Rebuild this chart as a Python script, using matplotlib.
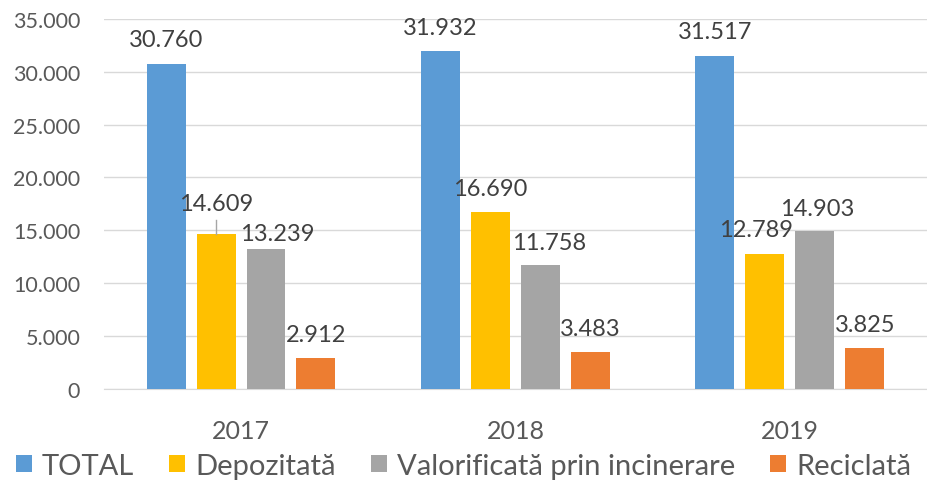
import matplotlib
matplotlib.use("Agg")
import matplotlib.pyplot as plt
import numpy as np

years = ["2017", "2018", "2019"]
series = ["TOTAL", "Depozitată", "Valorificată prin incinerare", "Reciclată"]
total = [30760, 31932, 31517]
depozitata = [14609, 16690, 12789]
valorificata = [13239, 11758, 14903]
reciclata = [2912, 3483, 3825]
colors = ["#5b9bd5", "#ffc000", "#a5a5a5", "#ed7d31"]

# label offsets in points (baseline above bar top), Excel-style nudges
offsets = {
    (1, 0): (0, 17.5), (2, 0): (8, 6.5),
    (2, 1): (6, 11.5), (1, 2): (-6.5, 13), (2, 2): (1.5, 11.5),
}

plt.rcParams["font.family"] = ["Lato", "DejaVu Sans"]
fig = plt.figure(figsize=(9.27, 4.85), dpi=100)
ax = fig.add_axes([0.112, 0.196, 0.888, 0.763])

x = np.arange(len(years))
w = 0.142
step = 0.182
data = [total, depozitata, valorificata, reciclata]
for i, (vals, c, name) in enumerate(zip(data, colors, series)):
    pos = x + (i - 1.5) * step
    ax.bar(pos, vals, width=w, color=c, label=name, zorder=3)
    for j, v in enumerate(vals):
        dx, dy = offsets.get((i, j), (0, 12.5))
        ax.annotate(f"{v/1000:.3f}", (pos[j], v), xytext=(dx, dy),
                    textcoords="offset points", ha="center", va="baseline",
                    fontsize=17, color="#404040", zorder=4)
        if (i, j) == (1, 0):
            ax.plot([pos[j], pos[j]], [v, v + 1330], color="#a6a6a6", lw=1, zorder=4)

ax.set_xlim(-0.5, 2.5)
ax.set_ylim(0, 35000)
ticks = list(range(0, 35001, 5000))
ax.set_yticks(ticks)
ax.set_yticklabels([f"{t:,}".replace(",", ".") for t in ticks])
ax.set_xticks(x)
ax.set_xticklabels(years)
ax.grid(axis="y", color="#d9d9d9", lw=1, zorder=0)
for s in ["top", "right", "left"]:
    ax.spines[s].set_visible(False)
ax.spines["bottom"].set_color("#d9d9d9")
ax.tick_params(axis="y", length=0, labelsize=15.5, labelcolor="#595959", pad=17)
ax.tick_params(axis="x", length=0, labelsize=18, labelcolor="#595959", pad=22)

fig.legend(loc="center", bbox_to_anchor=(0.5, 1 - 467 / 485), ncol=4, frameon=False,
           fontsize=21, handlelength=0.55, handleheight=0.55, handletextpad=0.35,
           columnspacing=1.2, labelcolor="#595959", borderaxespad=0)

fig.savefig("out.png", dpi=100)
